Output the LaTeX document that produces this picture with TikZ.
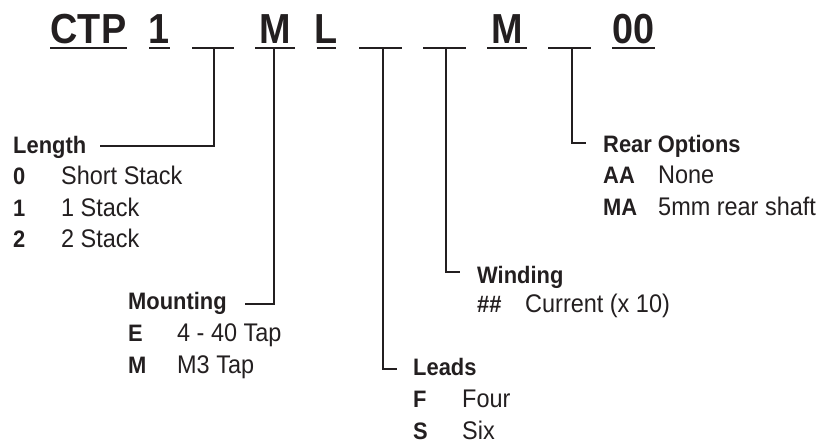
\documentclass[tikz,border=0pt]{standalone}
\usepackage{fontspec}
\setmainfont[FakeStretch=0.92]{Liberation Sans}
\newfontfamily\topfont[FakeStretch=0.9]{Liberation Sans}
\definecolor{ink}{HTML}{231F20}
\tikzset{
  topchar/.style={anchor=base, inner sep=0pt, text=ink, font=\topfont\bfseries\fontsize{42}{50}\selectfont},
  uline/.style={draw=ink, line width=2.6pt},
  conn/.style={draw=ink, line width=2.4pt},
  headlbl/.style={anchor=base west, inner sep=0pt, text=ink, font=\bfseries\fontsize{23.8}{28}\selectfont},
  codelbl/.style={anchor=base west, inner sep=0pt, text=ink, font=\bfseries\fontsize{23.8}{28}\selectfont},
  desclbl/.style={anchor=base west, inner sep=0pt, text=ink, font=\fontsize{25.5}{30}\selectfont},
}
\begin{document}
\begin{tikzpicture}[x=1pt,y=-1pt]
\useasboundingbox (0,0) rectangle (822,445);
% top code line
\node[topchar] (ctp) at (88.5,43) {CTP};
\node[topchar] (one) at (159.5,43) {1};
\node[topchar] (mm) at (275,43) {M};
\node[topchar] (ll) at (326.5,43) {L};
\node[topchar] (m2) at (507,43) {M};
\node[topchar] (zz) at (633.5,43) {00};
% underlines
\draw[uline] (50,48) -- (127,48);
\draw[uline] (149,48) -- (170,48);
\draw[uline] (192,48) -- (234,48);
\draw[uline] (255,48) -- (295,48);
\draw[uline] (317,48) -- (336,48);
\draw[uline] (359,48) -- (402,48);
\draw[uline] (423,48) -- (466,48);
\draw[uline] (487,48) -- (527,48);
\draw[uline] (548,48) -- (591,48);
\draw[uline] (612,48) -- (655,48);
% connector start points on the underlines
\coordinate (b1) at (214,48);
\coordinate (bm) at (274,48);
\coordinate (b2) at (383,48);
\coordinate (b3) at (446,48);
\coordinate (b4) at (572,48);
% connector ends
\coordinate (eLen) at (100,146);
\coordinate (eMnt) at (245,304);
\coordinate (eLds) at (397,369);
\coordinate (eWnd) at (460,272);
\coordinate (eRear) at (586,143);
\draw[conn] (b1) |- (eLen);
\draw[conn] (bm) |- (eMnt);
\draw[conn] (b2) |- (eLds);
\draw[conn] (b3) |- (eWnd);
\draw[conn] (b4) |- (eRear);
% Length
\node[headlbl] (len) at (13,153) {Length};
\node[codelbl] (l0) at (13,184.5) {0};
\node[desclbl] (l0d) at (61,184.5) {Short Stack};
\node[codelbl] (l1) at (13,216) {1};
\node[desclbl] (l1d) at (61,216) {1 Stack};
\node[codelbl] (l2) at (13,247.5) {2};
\node[desclbl] (l2d) at (61,247.5) {2 Stack};
% Mounting
\node[headlbl] (mnt) at (128,309) {Mounting};
\node[codelbl] (me) at (128,341) {E};
\node[desclbl] (med) at (177,341) {4 - 40 Tap};
\node[codelbl] (mmc) at (128,373) {M};
\node[desclbl] (mmd) at (177,373) {M3 Tap};
% Leads
\node[headlbl] (lds) at (413,375) {Leads};
\node[codelbl] (lf) at (413,407) {F};
\node[desclbl] (lfd) at (462,407) {Four};
\node[codelbl] (ls) at (413,439) {S};
\node[desclbl] (lsd) at (462,439) {Six};
% Winding
\node[headlbl] (wnd) at (477,283) {Winding};
\node[codelbl] (wh) at (477,312) {\#\#};
\node[desclbl] (whd) at (525,312) {Current (x 10)};
% Rear Options
\node[headlbl] (rear) at (603,152) {Rear Options};
\node[codelbl] (raa) at (603,183) {AA};
\node[desclbl] (raad) at (658,183) {None};
\node[codelbl] (rma) at (603,215) {MA};
\node[desclbl] (rmad) at (658,215) {5mm rear shaft};
\end{tikzpicture}
\end{document}
